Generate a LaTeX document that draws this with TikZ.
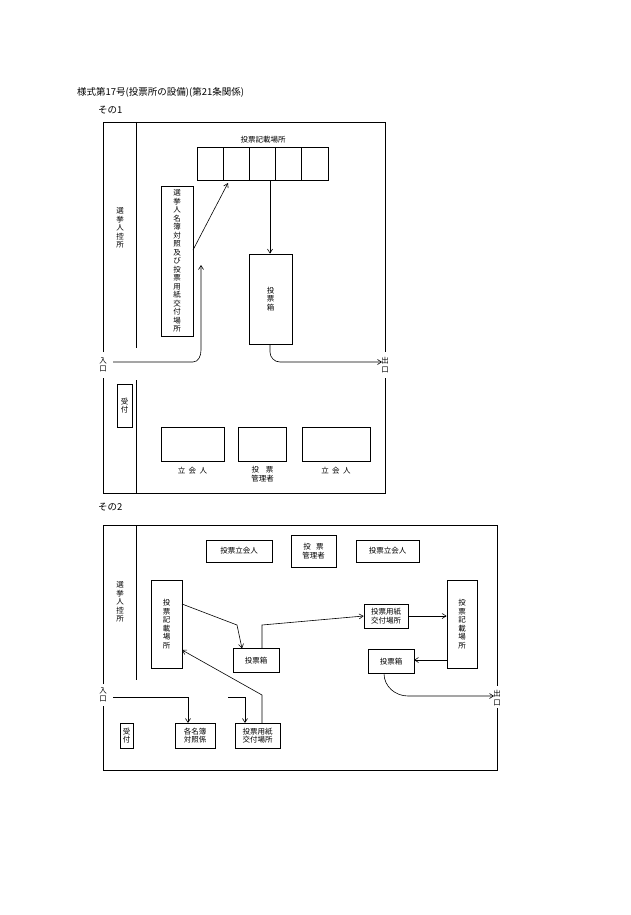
\documentclass[tikz,border=0pt]{standalone}
\usepackage{fontspec}
\setmainfont{Noto Sans CJK JP}
\usetikzlibrary{arrows.meta}
\begin{document}
\begin{tikzpicture}[x=1pt,y=-1pt,
  wall/.style={line width=0.7pt},
  bx/.style={draw,line width=0.7pt},
  lab/.style={font=\fontsize{7.5}{8.5}\selectfont,inner sep=0pt,align=center},
  arr/.style={-{Straight Barb[length=4pt,width=5pt]},line width=0.6pt},
  ln/.style={line width=0.6pt}]
\useasboundingbox (0,0) rectangle (630,915);
\node[anchor=west,font=\fontsize{9.5}{10}\selectfont,inner sep=0pt] (title) at (77,92) {様式第17号(投票所の設備)(第21条関係)};
\node[anchor=west,font=\fontsize{9.5}{10}\selectfont,inner sep=0pt] (s1) at (98,110) {その1};
% ---------- sono 1 walls
\draw[wall] (103,352) -- (103,122) -- (385,122) -- (385,352);
\draw[wall] (103,378) -- (103,493) -- (385,493) -- (385,378);
\draw[wall] (136,122) -- (136,348);
\draw[wall] (136,380) -- (136,493);
\node[lab] (hikae1) at (120,228) {選\\挙\\人\\控\\所};
\node[lab] (kisaihd) at (263,140) {投票記載場所};
\foreach \i in {0,...,4}{\draw[bx] (197+\i*26.2,147) rectangle (197+\i*26.2+26.2,180);}
\coordinate (booth) at (270,180);
\node[bx,minimum width=32pt,minimum height=150pt,inner sep=0pt] (meibo) at (177,261) {};
\node[lab] at (177,261) {選\\挙\\人\\名\\簿\\対\\照\\及\\び\\投\\票\\用\\紙\\交\\付\\場\\所};
\node[bx,minimum width=43pt,minimum height=90pt,inner sep=0pt] (bako1) at (270.5,299) {};
\node[lab] at (270.5,299) {投\\票\\箱};
\node[lab] (iri1) at (103,365) {入\\口};
\node[lab] (de1) at (385,365) {出\\口};
\draw[arr] (booth) -- (bako1.north -| booth);
\draw[arr] (193,250) -- (228,183);
\draw[arr] (113,362) -- (193,362) to[out=0,in=-90] (201,350) -- (201,265);
\draw[arr] (bako1.south -| booth) -- (270,352) to[out=-90,in=180] (280,362) -- (382,362);
\node[bx,minimum width=15pt,minimum height=43pt,inner sep=0pt] (uke1) at (124.5,405.5) {};
\node[lab] at (124.5,405.5) {受\\付};
\node[bx,minimum width=63pt,minimum height=34pt] (tachi1) at (192.5,444) {};
\node[bx,minimum width=48pt,minimum height=34pt] (kanri1) at (262.5,444) {};
\node[bx,minimum width=68pt,minimum height=34pt] (tachi2) at (336,444) {};
\node[lab] at (192.5,471) {立\ \ 会\ \ 人};
\node[lab] at (262.5,474) {投\ \ \ \ 票\\管理者};
\node[lab] at (336,471) {立\ \ 会\ \ 人};
% ---------- sono 2
\node[anchor=west,font=\fontsize{9.5}{10}\selectfont,inner sep=0pt] (s2) at (98,507) {その2};
\draw[wall] (103,684) -- (103,525) -- (497,525) -- (497,686);
\draw[wall] (103,706) -- (103,770) -- (497,770) -- (497,708);
\draw[wall] (136,525) -- (136,680);
\node[lab] (hikae2) at (120,602) {選\\挙\\人\\控\\所};
\node[bx,minimum width=66pt,minimum height=22pt,inner sep=0pt] (tk1) at (239,551) {};
\node[lab] at (239,551) {投票立会人};
\node[bx,minimum width=45pt,minimum height=32pt,inner sep=0pt] (kn2) at (313.5,551) {};
\node[lab] at (313.5,551) {投\ \ \ 票\\管理者};
\node[bx,minimum width=63pt,minimum height=22pt,inner sep=0pt] (tk2) at (387.5,551) {};
\node[lab] at (387.5,551) {投票立会人};
\node[bx,minimum width=31pt,minimum height=88pt,inner sep=0pt] (kisaiL) at (166.5,624) {};
\node[lab] at (166.5,624) {投\\票\\記\\載\\場\\所};
\node[bx,minimum width=30pt,minimum height=88pt,inner sep=0pt] (kisaiR) at (462,624) {};
\node[lab] at (462,624) {投\\票\\記\\載\\場\\所};
\node[bx,minimum width=46pt,minimum height=24pt,inner sep=0pt] (bakoL) at (256,660.5) {};
\node[lab] at (256,660.5) {投票箱};
\node[bx,minimum width=44pt,minimum height=24pt,inner sep=0pt] (koufuR) at (386,616) {};
\node[lab] at (386,616) {投票用紙\\交付場所};
\node[bx,minimum width=46pt,minimum height=24pt,inner sep=0pt] (bakoR) at (391,661.5) {};
\node[lab] at (391,661.5) {投票箱};
\node[bx,minimum width=13pt,minimum height=25pt,inner sep=0pt] (uke2) at (126.5,735.5) {};
\node[lab] at (126.5,735.5) {受\\付};
\node[bx,minimum width=40pt,minimum height=25pt,inner sep=0pt] (taisho) at (195,735.5) {};
\node[lab] at (195,735.5) {各名簿\\対照係};
\node[bx,minimum width=45pt,minimum height=25pt,inner sep=0pt] (koufuL) at (257.5,735.5) {};
\node[lab] at (257.5,735.5) {投票用紙\\交付場所};
\node[lab] (iri2) at (103,695) {入\\口};
\node[lab] (de2) at (497,698) {出\\口};
\draw[arr] (113,697) -- (188,697) -- (188,723);
\draw[arr] (228,697) -- (245,697) -- (245,723);
\draw[arr] (262,723) -- (262,695) -- (182,650);
\draw[arr] (182,604) -- (237,625) -- (242,648.5);
\draw[arr] (262,648.5) -- (262,625) -- (koufuR.west);
\draw[arr] (koufuR.east) -- (kisaiR.west |- koufuR.east);
\draw[arr] (447,660) -- (414,660);
\draw[arr] (384,673.5) to[out=-90,in=180] (408,696) -- (494,696);
\end{tikzpicture}
\end{document}
